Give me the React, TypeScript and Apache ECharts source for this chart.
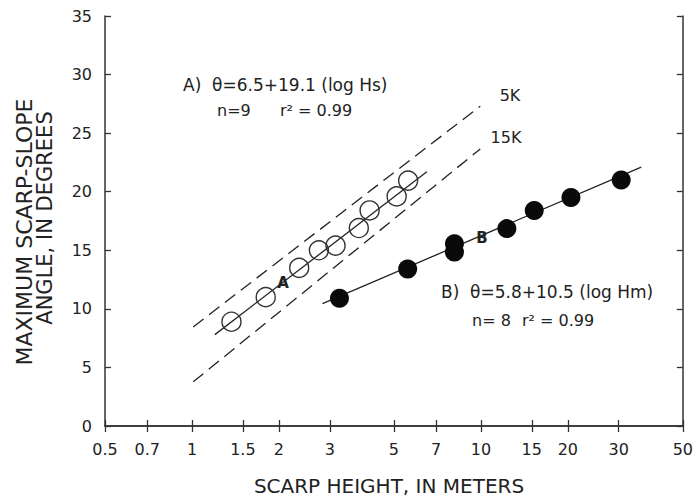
import React, { useEffect, useRef } from "react";
import * as echarts from "echarts";

const xTickValues = [0.5, 0.7, 1, 1.5, 2, 3, 5, 7, 10, 15, 20, 30, 50];

// Series A: Hs (open circles)
const seriesA: [number, number][] = [
  [1.37, 8.9], [1.8, 11.0], [2.35, 13.5], [2.75, 15.0], [3.14, 15.4],
  [3.78, 16.9], [4.12, 18.4], [5.11, 19.6], [5.6, 20.95],
];
// Series B: Hm (filled circles)
const seriesB: [number, number][] = [
  [3.24, 10.9], [5.58, 13.4], [8.1, 15.55], [8.1, 14.85],
  [12.3, 16.85], [15.3, 18.4], [20.5, 19.5], [30.6, 21.0],
];
const fitA: [number, number][] = [[1.2, 7.8], [6.5, 21.7]];
const fitB: [number, number][] = [[2.83, 10.45], [35.9, 22.1]];
const line5K: [number, number][] = [[1.01, 8.46], [9.95, 27.3]];
const line15K: [number, number][] = [[1.01, 3.77], [9.95, 23.65]];

const FONT = "DejaVu Sans";
const INK = "#222";

export default function App() {
  const ref = useRef<HTMLDivElement>(null);
  useEffect(() => {
    if (!ref.current) return;
    const chart = echarts.init(ref.current, null, { renderer: "svg" });
    const fmt = (v: number) => String(+Number(v).toPrecision(3));
    const axisLine = { show: true, lineStyle: { color: "#333", width: 1.5 } };
    const tick = { show: true, inside: true, length: 6, lineStyle: { color: "#333", width: 1.3 } };
    const txt = (x: number, y: number, text: string, size: number, extra: any = {}) => ({
      type: "text",
      x,
      y,
      style: {
        text,
        fill: INK,
        fontFamily: FONT,
        fontSize: size,
        textAlign: "left",
        textVerticalAlign: "middle",
        ...extra,
      },
    });
    chart.setOption({
      animation: false,
      backgroundColor: "#fff",
      grid: { left: 105, right: 10, top: 16, bottom: 74 },
      xAxis: [
        {
          type: "log",
          logBase: 10,
          min: 0.5,
          max: 50,
          position: "bottom",
          axisLine,
          axisTick: { ...tick, customValues: xTickValues },
          axisLabel: {
            customValues: xTickValues,
            formatter: fmt,
            color: INK,
            fontFamily: FONT,
            fontSize: 16,
            margin: 15,
          },
          splitLine: { show: false },
          minorTick: { show: false },
        },
        {
          type: "log",
          logBase: 10,
          min: 0.5,
          max: 50,
          position: "top",
          axisLine,
          axisTick: { ...tick, customValues: xTickValues },
          axisLabel: { show: false },
          splitLine: { show: false },
        },
      ],
      yAxis: [
        {
          type: "value",
          min: 0,
          max: 35,
          interval: 5,
          position: "left",
          axisLine,
          axisTick: tick,
          axisLabel: { color: INK, fontFamily: FONT, fontSize: 16, margin: 13 },
          splitLine: { show: false },
        },
        {
          type: "value",
          min: 0,
          max: 35,
          interval: 5,
          position: "right",
          axisLine,
          axisTick: tick,
          axisLabel: { show: false },
          splitLine: { show: false },
        },
      ],
      series: [
        {
          type: "line",
          data: line5K,
          symbol: "none",
          lineStyle: { color: INK, width: 1.3, type: [13, 7] },
        },
        {
          type: "line",
          data: line15K,
          symbol: "none",
          lineStyle: { color: INK, width: 1.3, type: [13, 7] },
        },
        {
          type: "line",
          data: fitA,
          symbol: "none",
          lineStyle: { color: INK, width: 1.3 },
        },
        {
          type: "line",
          data: fitB,
          symbol: "none",
          lineStyle: { color: INK, width: 1.3 },
        },
        {
          type: "scatter",
          data: seriesA,
          symbol: "circle",
          symbolSize: 19,
          itemStyle: { color: "rgba(0,0,0,0)", borderColor: "#333", borderWidth: 1.4, opacity: 1 },
          z: 5,
        },
        {
          type: "scatter",
          data: seriesB,
          symbol: "circle",
          symbolSize: 19,
          itemStyle: { color: "#0a0a0a", opacity: 1 },
          z: 5,
        },
      ],
      graphic: [
        txt(183, 85, "A)  θ=6.5+19.1 (log Hs)", 17),
        txt(217, 110, "n=9", 16),
        txt(280, 110, "r² = 0.99", 16),
        txt(441, 292, "B)  θ=5.8+10.5 (log Hm)", 17),
        txt(472, 320, "n= 8", 16),
        txt(522, 320, "r² = 0.99", 16),
        txt(283, 283, "A", 15, { textAlign: "center", fontWeight: "bold" }),
        txt(482, 238, "B", 15, { textAlign: "center", fontWeight: "bold" }),
        txt(510, 95, "5K", 16, { textAlign: "center" }),
        txt(506, 137, "15K", 16, { textAlign: "center" }),
        txt(389, 486, "SCARP HEIGHT, IN METERS", 20, { textAlign: "center" }),
        {
          type: "text",
          x: 24,
          y: 232,
          rotation: Math.PI / 2,
          style: {
            text: "MAXIMUM SCARP-SLOPE",
            fill: INK,
            fontFamily: FONT,
            fontSize: 22,
            textAlign: "center",
            textVerticalAlign: "middle",
          },
        },
        {
          type: "text",
          x: 45,
          y: 218,
          rotation: Math.PI / 2,
          style: {
            text: "ANGLE, IN DEGREES",
            fill: INK,
            fontFamily: FONT,
            fontSize: 21,
            textAlign: "center",
            textVerticalAlign: "middle",
          },
        },
      ],
    });
    return () => chart.dispose();
  }, []);
  return (
    <div
      ref={ref}
      style={{ position: "absolute", left: 0, top: 0, width: 696, height: 500 }}
    />
  );
}
